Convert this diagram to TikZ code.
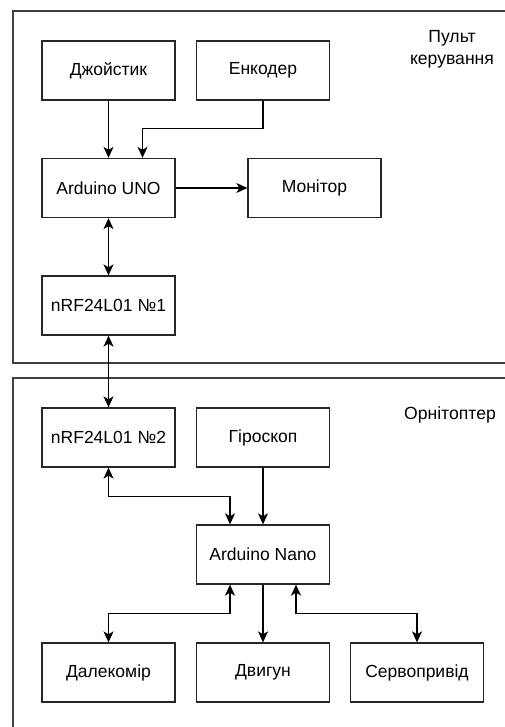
\documentclass[tikz,border=0pt]{standalone}
\usepackage{fontspec}
\setmainfont{Liberation Sans}
\usetikzlibrary{arrows.meta}
\begin{document}
\begin{tikzpicture}[x=1pt,y=-1pt,
  blk/.style={draw=black!85,line width=1.3pt,minimum width=133pt,minimum height=59pt,inner sep=0pt,font=\fontsize{17.5}{20}\selectfont},
  lbl/.style={align=center,font=\fontsize{17.6}{22}\selectfont},
  grp/.style={draw=black!75,line width=1.3pt},
  con/.style={line width=1.3pt,arrows={-Stealth[length=11pt,width=10pt,inset=3pt]}},
  bicon/.style={line width=1.3pt,arrows={Stealth[length=11pt,width=10pt,inset=3pt]-Stealth[length=11pt,width=10pt,inset=3pt]}}]
\useasboundingbox (0,0) rectangle (505,727);
\fill[white] (0,0) rectangle (505,727);
\draw[grp] (13,11) rectangle (520,363);
\draw[grp] (13,378) rectangle (520,740);
\node[lbl] (t1) at (452,49) {Пульт\\керування};
\node[lbl] (t2) at (450,415) {Орнітоптер};
\node[blk] (dzh) at (108.5,70.5) {Джойстик};
\node[blk] (enc) at (263,70.5) {Енкодер};
\node[blk] (uno) at (108.5,188) {Arduino UNO};
\node[blk] (mon) at (314.5,188) {Монітор};
\node[blk] (nrf1) at (108.5,305.5) {nRF24L01 №1};
\node[blk] (nrf2) at (108.5,437.5) {nRF24L01 №2};
\node[blk] (gyro) at (263,437.5) {Гіроскоп};
\node[blk] (nano) at (263,554.5) {Arduino Nano};
\node[blk] (dal) at (108.5,672.5) {Далекомір};
\node[blk] (dvy) at (263,672.5) {Двигун};
\node[blk] (servo) at (417,672.5) {Сервопривід};
\draw[con] (dzh.south) -- (uno.north);
\draw[con] (enc.south) -- ++(0,28) -| ([xshift=34pt]uno.north);
\draw[con] (uno.east) -- (mon.west);
\draw[bicon] (uno.south) -- (nrf1.north);
\draw[bicon] (nrf1.south) -- (nrf2.north);
\draw[bicon] (nrf2.south) -- ++(0,29) -| ([xshift=-33pt]nano.north);
\draw[con] (gyro.south) -- (nano.north);
\draw[bicon] ([xshift=-33pt]nano.south) -- ++(0,29) -| (dal.north);
\draw[con] (nano.south) -- (dvy.north);
\draw[bicon] ([xshift=33pt]nano.south) -- ++(0,29) -| (servo.north);
\end{tikzpicture}
\end{document}
